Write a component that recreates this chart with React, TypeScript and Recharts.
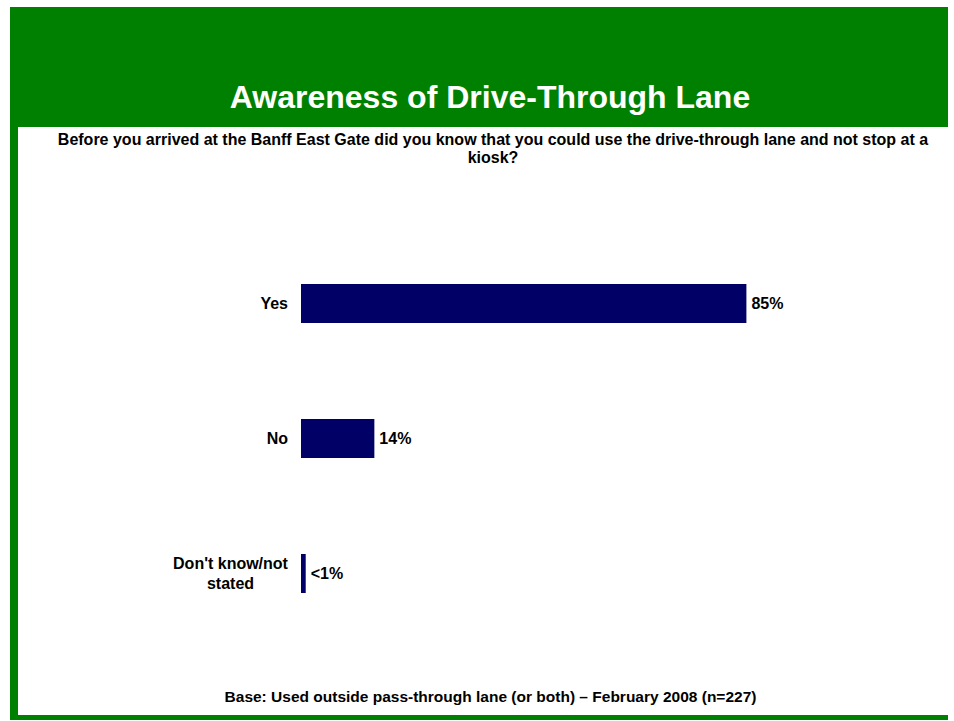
import React from "react";
import { BarChart, Bar, XAxis, YAxis, LabelList } from "recharts";

// Survey responses
const categories = ["Yes", "No", "Don't know/not stated"];
const values = [85, 14, 0.9];
const valueLabels = ["85%", "14%", "<1%"];

const data = categories.map((name, i) => ({ name, value: values[i], label: valueLabels[i] }));

const GREEN = "#008000";
const NAVY = "#000066";
const FONT = "'Liberation Sans', Arial, sans-serif";

const CategoryTick = (props: any) => {
  const { x, y, payload } = props;
  const text: string = payload.value;
  const lines = text === "Don't know/not stated" ? ["Don't know/not", "stated"] : [text];
  const lh = 20;
  const start = -((lines.length - 1) * lh) / 2;
  const multi = lines.length > 1;
  return (
    <text x={x} y={y} fontFamily={FONT} fontWeight="bold" fontSize={16} fill="#000">
      {lines.map((l, i) => (
        <tspan
          key={i}
          x={multi ? x - 57.5 : x}
          dy={i === 0 ? start + 5.5 : lh}
          textAnchor={multi ? "middle" : "end"}
        >
          {l}
        </tspan>
      ))}
    </text>
  );
};

export default function App() {
  return (
    <div
      style={{
        position: "absolute",
        left: 0,
        top: 0,
        width: 954,
        height: 721,
        background: "#fff",
        fontFamily: FONT,
        overflow: "hidden",
      }}
    >
      {/* header band */}
      <div
        style={{
          position: "absolute",
          left: 10,
          top: 7,
          width: 938,
          height: 120,
          background: GREEN,
        }}
      />
      <div
        style={{
          position: "absolute",
          left: 0,
          width: 980,
          top: 77,
          textAlign: "center",
          color: "#fff",
          fontWeight: "bold",
          fontSize: 32,
          lineHeight: "40px",
        }}
      >
        Awareness of Drive-Through Lane
      </div>
      {/* left and bottom frame lines */}
      <div style={{ position: "absolute", left: 10, top: 127, width: 8, height: 593, background: GREEN }} />
      <div style={{ position: "absolute", left: 10, top: 715, width: 938, height: 5, background: GREEN }} />

      <div
        style={{
          position: "absolute",
          left: 0,
          width: 986,
          top: 131,
          textAlign: "center",
          color: "#000",
          fontWeight: "bold",
          fontSize: 16,
          lineHeight: "18px",
        }}
      >
        Before you arrived at the Banff East Gate did you know that you could use the drive-through lane and not stop at a
        <br />
        kiosk?
      </div>

      <div
        style={{
          position: "absolute",
          left: 0,
          width: 981,
          top: 688,
          textAlign: "center",
          color: "#000",
          fontWeight: "bold",
          fontSize: 15.5,
          lineHeight: "18px",
        }}
      >
        Base: Used outside pass-through lane (or both) – February 2008 (n=227)
      </div>

      <div style={{ position: "absolute", left: 0, top: 0 }}>
        <BarChart
          width={954}
          height={721}
          data={data}
          layout="vertical"
          margin={{ top: 236, right: 129, bottom: 80, left: 11 }}
          barSize={39}
        >
          <XAxis type="number" domain={[0, 100]} hide />
          <YAxis
            type="category"
            dataKey="name"
            width={290}
            axisLine={false}
            tickLine={false}
            tickSize={0}
            tickMargin={13}
            tick={<CategoryTick />}
            interval={0}
          />
          <Bar dataKey="value" fill={NAVY} isAnimationActive={false}>
            <LabelList
              dataKey="label"
              position="right"
              offset={5}
              fontFamily={FONT}
              fontWeight="bold"
              fontSize={16}
              fill="#000"
            />
          </Bar>
        </BarChart>
      </div>
    </div>
  );
}
